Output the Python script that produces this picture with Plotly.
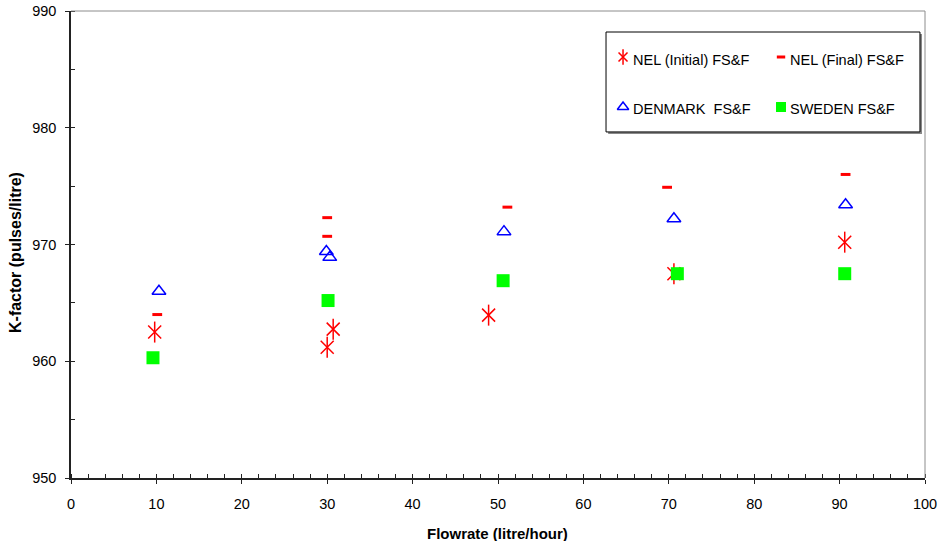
import plotly.graph_objects as go

# ---- data ----
nel_init_x = [9.8, 30.0, 30.7, 48.9, 70.6, 90.6]
nel_init_y = [962.5, 961.2, 962.75, 963.95, 967.5, 970.2]

nel_final_x = [10.1, 30.0, 30.0, 51.1, 69.8, 90.7]
nel_final_y = [964.0, 972.3, 970.7, 973.2, 974.9, 976.0]

denmark_x = [10.3, 29.9, 30.3, 50.7, 70.6, 90.7]
denmark_y = [966.0, 969.4, 968.9, 971.1, 972.2, 973.4]

sweden_x = [9.6, 30.1, 50.6, 71.0, 90.6]
sweden_y = [960.3, 965.2, 966.9, 967.5, 967.5]

series_names = ["NEL (Initial) FS&F", "NEL (Final) FS&F", "DENMARK  FS&F", "SWEDEN FS&F"]
x_ticks = [0, 10, 20, 30, 40, 50, 60, 70, 80, 90, 100]
y_ticks = [950, 960, 970, 980, 990]
x_title = "Flowrate (litre/hour)"
y_title = "K-factor (pulses/litre)"

RED = "#FF0000"
BLUE = "#0000FF"
GREEN = "#00FF00"
FONT = "Liberation Sans, Arial, sans-serif"

fig = go.Figure()

# NEL initial: asterisk (x + vertical stroke)
fig.add_trace(go.Scatter(x=nel_init_x, y=nel_init_y, mode="markers", showlegend=False,
                         marker=dict(symbol="x-thin-open", size=13, color=RED, line=dict(color=RED, width=1.5))))
fig.add_trace(go.Scatter(x=nel_init_x, y=nel_init_y, mode="markers", showlegend=False,
                         marker=dict(symbol="line-ns-open", size=15, color=RED, line=dict(color=RED, width=1.5))))
# NEL final: dash
fig.add_trace(go.Scatter(x=nel_final_x, y=nel_final_y, mode="markers", showlegend=False,
                         marker=dict(symbol="line-ew-open", size=7, color=RED, line=dict(color=RED, width=3))))
# Denmark: open triangle
fig.add_trace(go.Scatter(x=denmark_x, y=denmark_y, mode="markers", showlegend=False,
                         marker=dict(symbol="triangle-up-open", size=12, color=BLUE, line=dict(color=BLUE, width=1.5))))
# Sweden: filled square
fig.add_trace(go.Scatter(x=sweden_x, y=sweden_y, mode="markers", showlegend=False,
                         marker=dict(symbol="square", size=13, color=GREEN, line=dict(width=0))))

# ---- custom legend (overlay axis spanning the plot area 0..1) ----
leg_mx = [0.6464, 0.8314, 0.6464, 0.8314]
leg_my = [0.9015, 0.9015, 0.7944, 0.7944]
leg_tx = [0.6557, 0.8396, 0.6557, 0.8396]
leg_ty = [0.895, 0.895, 0.790, 0.790]

fig.add_trace(go.Scatter(x=[leg_mx[0]], y=[leg_my[0]], xaxis="x2", yaxis="y2", mode="markers", showlegend=False,
                         marker=dict(symbol="x-thin-open", size=9, color=RED, line=dict(color=RED, width=1.5))))
fig.add_trace(go.Scatter(x=[leg_mx[0]], y=[leg_my[0]], xaxis="x2", yaxis="y2", mode="markers", showlegend=False,
                         marker=dict(symbol="line-ns-open", size=11, color=RED, line=dict(color=RED, width=1.5))))
fig.add_trace(go.Scatter(x=[leg_mx[1]], y=[leg_my[1]], xaxis="x2", yaxis="y2", mode="markers", showlegend=False,
                         marker=dict(symbol="line-ew-open", size=6, color=RED, line=dict(color=RED, width=3))))
fig.add_trace(go.Scatter(x=[leg_mx[2]], y=[leg_my[2]], xaxis="x2", yaxis="y2", mode="markers", showlegend=False,
                         marker=dict(symbol="triangle-up-open", size=10, color=BLUE, line=dict(color=BLUE, width=1.5))))
fig.add_trace(go.Scatter(x=[leg_mx[3]], y=[leg_my[3]], xaxis="x2", yaxis="y2", mode="markers", showlegend=False,
                         marker=dict(symbol="square", size=10, color=GREEN, line=dict(width=0))))

annotations = []
for name, tx, ty in zip(series_names, leg_tx, leg_ty):
    annotations.append(dict(x=tx, y=ty, xref="paper", yref="paper", text=name, showarrow=False,
                            xanchor="left", yanchor="middle", font=dict(family=FONT, size=14.5, color="black")))
# axis titles
annotations.append(dict(x=0.5, y=0, xref="paper", yref="paper", xshift=-1, yshift=-55,
                        xanchor="center", yanchor="middle", text="<b>" + x_title + "</b>",
                        showarrow=False, font=dict(family=FONT, size=15, color="black")))
annotations.append(dict(x=0, y=0.5, xref="paper", yref="paper", xshift=-56, yshift=-8.5, textangle=-90,
                        xanchor="center", yanchor="middle",
                        text="<b>" + y_title + "</b>", showarrow=False,
                        font=dict(family=FONT, size=16, color="black")))

shapes = [
    # legend shadow + box
    dict(type="rect", xref="paper", yref="paper", x0=0.6290, x1=0.9965, y0=0.7367, y1=0.9507,
         fillcolor="#888888", line=dict(width=0), layer="below"),
    dict(type="rect", xref="paper", yref="paper", x0=0.6265, x1=0.9941, y0=0.741, y1=0.955,
         fillcolor="white", line=dict(color="black", width=1), layer="below"),
    # gray frame top & right
    dict(type="line", xref="paper", yref="paper", x0=0, x1=1, y0=1, y1=1, line=dict(color="#8c8c8c", width=1)),
    dict(type="line", xref="paper", yref="paper", x0=1, x1=1, y0=0, y1=1, line=dict(color="#8c8c8c", width=1)),
]

fig.update_layout(
    width=940, height=541,
    margin=dict(l=71, r=15, t=11, b=63),
    paper_bgcolor="white", plot_bgcolor="white",
    font=dict(family=FONT, size=14.5, color="black"),
    showlegend=False,
    annotations=annotations,
    shapes=shapes,
    xaxis=dict(range=[0, 100], tickvals=x_ticks, ticktext=[str(v) for v in x_ticks], automargin=False,
               showgrid=False, zeroline=False, showline=True, linecolor="#222222", linewidth=1.5,
               ticks="outside", ticklen=4, tickcolor="#222222", tickwidth=1, ticklabelstandoff=8,
               tickfont=dict(family=FONT, size=14.5),
               minor=dict(dtick=2, ticks="inside", ticklen=4, tickcolor="#222222", showgrid=False)),
    yaxis=dict(range=[950, 990], tickvals=y_ticks, ticktext=[str(v) for v in y_ticks], automargin=False,
               showgrid=False, zeroline=False, showline=True, linecolor="#222222", linewidth=1.5,
               ticks="outside", ticklen=4, tickcolor="#222222", tickwidth=1, ticklabelstandoff=6,
               tickfont=dict(family=FONT, size=14.5),
               minor=dict(dtick=5, ticks="inside", ticklen=4, tickcolor="#222222", showgrid=False)),
    xaxis2=dict(range=[0, 1], overlaying="x", visible=False, fixedrange=True),
    yaxis2=dict(range=[0, 1], overlaying="y", visible=False, fixedrange=True),
)

fig.write_html("out.html", config={"displayModeBar": False})

# remove the default 8px page margin so the figure sits at the window origin
with open("out.html", "r", encoding="utf-8") as f:
    html = f.read()
html = html.replace("<head>", "<head><style>html,body{margin:0;padding:0;overflow:hidden;}</style>", 1)
with open("out.html", "w", encoding="utf-8") as f:
    f.write(html)
